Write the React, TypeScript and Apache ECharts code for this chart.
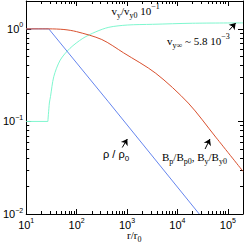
import { useEffect, useRef } from 'react';
import * as echarts from 'echarts';

// ---- axis ranges & ticks ----
const X_MIN = 10;
const X_MAX = 200000;
const Y_MIN = 0.01;
const Y_MAX = 2;
const xMajorTicks = [10, 100, 1000, 10000, 100000];
const yMajorTicks = [0.01, 0.1, 1];
const minorMultipliers = [2, 3, 4, 5, 6, 7, 8, 9];

// ---- series data ----
// rho / rho_0
const rhoR = [10, 28, 427, 27100];
const rhoV = [1, 1, 0.163, 0.01];
// B_p/B_p0, B_y/B_y0
const bR = [10, 28, 56, 100, 316, 849, 3725, 16400, 57700, 200000];
const bV = [1, 1, 0.984, 0.933, 0.767, 0.552, 0.331, 0.158, 0.0676, 0.0289];
// v_y/v_y0 * 1e-1 : flat part, then the rise (the rise starts with a sharp corner)
const vFlatR = [10, 26.9];
const vFlatV = [0.1, 0.1];
const vRiseR = [26.9, 28.8, 30.3, 35.2, 47.3, 73.8, 133, 241, 436, 1010, 3210, 20000, 200000];
const vRiseV = [0.1, 0.158, 0.185, 0.304, 0.46, 0.616, 0.79, 0.93, 1.04, 1.1, 1.12, 1.15, 1.16];

// annotation arrows (data coordinates: [r, value] tail -> head)
const arrowV = [[107000, 0.97], [143000, 1.155]];
const arrowRho = [[805, 0.0523], [1014, 0.0646]];
const arrowB = [[35400, 0.0504], [44200, 0.0646]];

const SERIF = "'Liberation Serif', 'Times New Roman', serif";
const SANS = "'Liberation Sans', Arial, sans-serif";

const CYAN = '#7ff7cf';
const BLUE = '#6585ee';
const RED = '#d9502e';

function minorTicks(majors: number[], lo: number, hi: number): number[] {
  const out: number[] = [];
  majors.forEach((m) => {
    minorMultipliers.forEach((k) => {
      const v = +(m * k).toPrecision(6);
      if (v >= lo && v <= hi) out.push(v);
    });
  });
  return out;
}

const xMinorTicks = minorTicks(xMajorTicks, X_MIN, X_MAX);
const yMinorTicks = minorTicks(yMajorTicks, Y_MIN, Y_MAX);

function zip(a: number[], b: number[]) {
  return a.map((v, i) => [v, b[i]]);
}

const tickRich = {
  b: { fontFamily: SANS, fontSize: 11, lineHeight: 15, verticalAlign: 'middle', color: '#000' },
  s: { fontFamily: SANS, fontSize: 7, lineHeight: 7, verticalAlign: 'top', color: '#000' },
};

function expFormatter(v: number) {
  const e = Math.round(Math.log10(v));
  const es = e < 0 ? '\u2212' + Math.abs(e) : String(e);
  return '{b|10}{s|' + es + '}';
}

function annRich(family: string) {
  return {
    b: { fontFamily: family, fontSize: 11, lineHeight: 17, verticalAlign: 'middle', fill: '#000', color: '#000' },
    sp: { fontFamily: family, fontSize: 8, lineHeight: 8, verticalAlign: 'top', fill: '#000', color: '#000' },
    sb: { fontFamily: family, fontSize: 8, lineHeight: 8, verticalAlign: 'bottom', fill: '#000', color: '#000' },
  };
}

function arrowMark(pts: number[][]) {
  return {
    silent: true,
    symbol: ['none', 'arrow'],
    symbolSize: 6,
    label: { show: false },
    lineStyle: { color: '#000', width: 1, type: 'solid' },
    emphasis: { disabled: true },
    data: [[{ coord: pts[0] }, { coord: pts[1] }]],
  };
}

export default function App() {
  const ref = useRef<HTMLDivElement>(null);
  useEffect(() => {
    if (!ref.current) return;
    const chart = echarts.init(ref.current, undefined, { renderer: 'svg' });
    const xBase = { type: 'log', logBase: 10, min: X_MIN, max: X_MAX, splitLine: { show: false } };
    const yBase = { type: 'log', logBase: 10, min: Y_MIN, max: Y_MAX, splitLine: { show: false } };
    const line = { show: true, onZero: false, lineStyle: { color: '#000', width: 1 } };
    const noLine = { show: false };
    const tick = (len: number, vals: number[]) => ({
      show: true, inside: true, length: len, customValues: vals, lineStyle: { color: '#000', width: 1 },
    });
    const option: any = {
      animation: false,
      grid: { left: 20, right: 6, top: 1, bottom: 35, containLabel: false },
      xAxis: [
        {
          ...xBase, position: 'bottom', axisLine: line, axisTick: tick(5, xMajorTicks),
          axisLabel: { show: true, customValues: xMajorTicks, formatter: expFormatter, rich: tickRich, margin: 3 },
        },
        { ...xBase, position: 'bottom', axisLine: noLine, axisTick: tick(3, xMinorTicks), axisLabel: { show: false } },
        { ...xBase, position: 'top', axisLine: line, axisTick: tick(5, xMajorTicks), axisLabel: { show: false } },
        { ...xBase, position: 'top', axisLine: noLine, axisTick: tick(3, xMinorTicks), axisLabel: { show: false } },
      ],
      yAxis: [
        {
          ...yBase, position: 'left', axisLine: line, axisTick: tick(5, yMajorTicks),
          axisLabel: { show: true, customValues: yMajorTicks, formatter: expFormatter, rich: tickRich, margin: 3 },
        },
        { ...yBase, position: 'left', axisLine: noLine, axisTick: tick(3, yMinorTicks), axisLabel: { show: false } },
        { ...yBase, position: 'right', axisLine: line, axisTick: tick(5, yMajorTicks), axisLabel: { show: false } },
        { ...yBase, position: 'right', axisLine: noLine, axisTick: tick(3, yMinorTicks), axisLabel: { show: false } },
      ],
      series: [
        {
          type: 'line', name: 'v flat', data: zip(vFlatR, vFlatV), showSymbol: false,
          lineStyle: { color: CYAN, width: 1 }, z: 2,
        },
        {
          type: 'line', name: 'v', data: zip(vRiseR, vRiseV), showSymbol: false, smooth: 0.3,
          lineStyle: { color: CYAN, width: 1 }, z: 2, markLine: arrowMark(arrowV),
        },
        {
          type: 'line', name: 'rho', data: zip(rhoR, rhoV), showSymbol: false,
          lineStyle: { color: BLUE, width: 1 }, z: 3, markLine: arrowMark(arrowRho),
        },
        {
          type: 'line', name: 'B', data: zip(bR, bV), showSymbol: false, smooth: 0.3,
          lineStyle: { color: RED, width: 1 }, z: 4, markLine: arrowMark(arrowB),
        },
      ],
      graphic: [
        { type: 'text', x: 111.5, y: 2, style: { text: '{b|v}{sb|y}{b|/v}{sb|y0}{b| 10}{sp|\u22121}', rich: annRich(SERIF), align: 'left', verticalAlign: 'top' } },
        { type: 'text', x: 167, y: 32, style: { text: '{b|v}{sb|y\u221e}{b| ~ 5.8 10}{sp|\u22123}', rich: annRich(SERIF), align: 'left', verticalAlign: 'top' } },
        { type: 'text', x: 103, y: 145, style: { text: '{b|\u03c1 / \u03c1}{sb|0}', rich: annRich(SANS), align: 'left', verticalAlign: 'top' } },
        { type: 'text', x: 162, y: 148, style: { text: '{b|B}{sb|p}{b|/B}{sb|p0}{b|, B}{sb|y}{b|/B}{sb|y0}', rich: annRich(SERIF), align: 'left', verticalAlign: 'top' } },
        { type: 'text', x: 127, y: 226, style: { text: '{b|r/r}{sb|0}', rich: annRich(SERIF), align: 'left', verticalAlign: 'top' } },
      ],
    };
    chart.setOption(option);
    return () => chart.dispose();
  }, []);
  return <div ref={ref} style={{ position: 'fixed', left: 0, top: 0, width: 249, height: 249, background: '#fff' }} />;
}
